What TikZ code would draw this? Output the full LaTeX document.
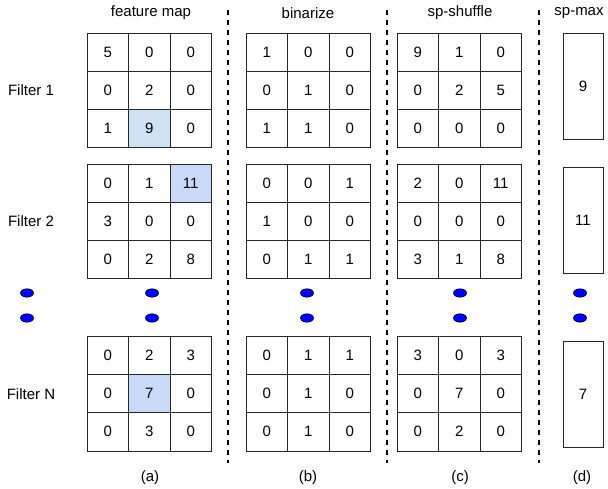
\documentclass[tikz,border=0pt]{standalone}
\usepackage{fontspec}
\setmainfont{Liberation Sans}
\usetikzlibrary{backgrounds}
\definecolor{hlone}{HTML}{CFE2F3}
\definecolor{hltwo}{HTML}{C9DAF8}

\begin{document}
\begin{tikzpicture}[x=1pt, y=-1pt,
    every node/.style={font=\fontsize{15}{17}\selectfont},
    cell/.style={draw=black!85, line width=0.8pt, minimum width=41.5pt, minimum height=38.3pt, inner sep=0pt, outer sep=0pt},
    maxbox/.style={cell, minimum width=40pt, minimum height=106pt},
    sep/.style={line width=1.1pt, dash pattern=on 5pt off 5pt},
    dot/.style={draw=black, fill=blue, line width=0.6pt}]
  %tikz  feature map -> binarize -> sp-shuffle -> sp-max
  \useasboundingbox (0,0) rectangle (608,489);
  \def\cw{41.5}
  \def\ch{38.3}
  \foreach \nm/\gx/\gy/\vals in {
      a1/87/33/{5,0,0,0,2,0,1,9,0}, b1/246/33/{1,0,0,0,1,0,1,1,0}, c1/397/33/{9,1,0,0,2,5,0,0,0},
      a2/87/164/{0,1,11,3,0,0,0,2,8}, b2/246/164/{0,0,1,1,0,0,0,1,1}, c2/397/164/{2,0,11,0,0,0,3,1,8},
      a3/87/336/{0,2,3,0,7,0,0,3,0}, b3/246/336/{0,1,1,0,1,0,0,1,0}, c3/397/336/{3,0,3,0,7,0,0,2,0}}{
    \foreach \v [count=\k from 0] in \vals {
      \pgfmathtruncatemacro\rw{div(\k,3)}
      \pgfmathtruncatemacro\cl{mod(\k,3)}
      \node[cell] (\nm-\rw-\cl) at ({\gx+(\cl+0.5)*\cw}, {\gy+(\rw+0.5)*\ch}) {\v};
    }
  }
  \begin{scope}[on background layer]
    \fill[hlone] (a1-2-1.north west) rectangle (a1-2-1.south east);
    \fill[hltwo] (a2-0-2.north west) rectangle (a2-0-2.south east);
    \fill[hltwo] (a3-1-1.north west) rectangle (a3-1-1.south east);
  \end{scope}
  \node[maxbox] (d1) at (583,86) {9};
  \node[maxbox] (d2) at (583,220.5) {11};
  \node[maxbox] (d3) at (583,394) {7};
  \node (f1) at (31,90.5) {Filter 1};
  \node (f2) at (31,221.5) {Filter 2};
  \node (fn) at (31,394.5) {Filter N};
  \node (hda) at (151,13) {feature map};
  \node (hdb) at (308,13) {binarize};
  \node (hdc) at (460,13) {sp-shuffle};
  \node (hdd) at (579,13) {sp-max};
  \node (lba) at (150,478) {(a)};
  \node (lbb) at (308,478) {(b)};
  \node (lbc) at (460,478) {(c)};
  \node (lbd) at (582,478) {(d)};
  \foreach \x in {27,152,307,460,580}
    \foreach \y in {293,318}
      \draw[dot] (\x,\y) ellipse (6.5 and 4.2);
  \foreach \x in {228,387,539}
    \draw[sep] (\x,10) -- (\x,463);
\end{tikzpicture}
\end{document}
